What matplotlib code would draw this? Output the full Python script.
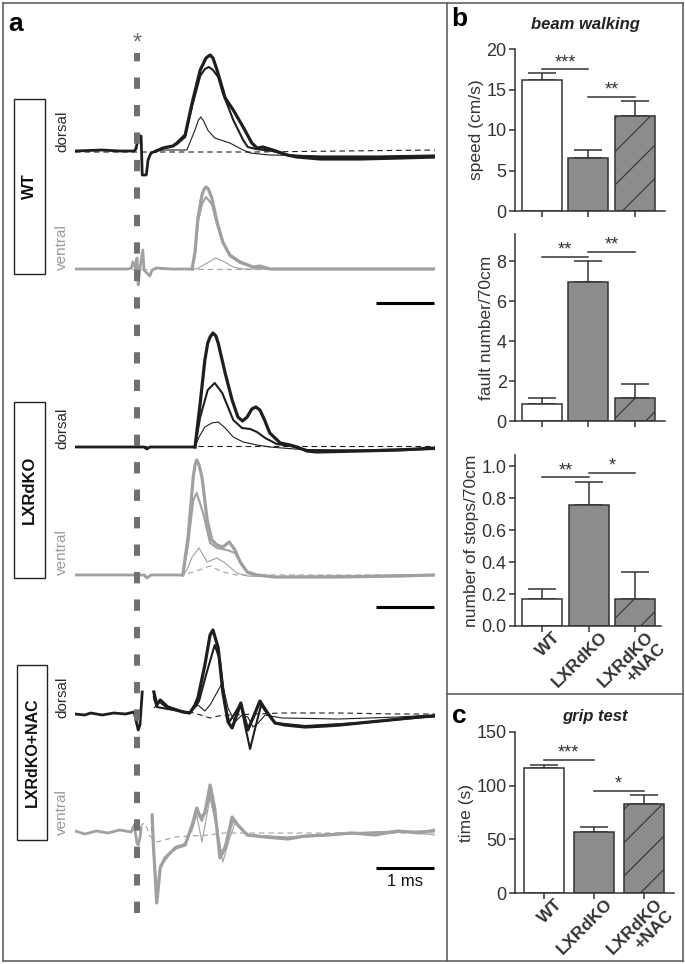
"""EMG traces (a) and behaviour bar charts (b, c) for WT / LXRdKO / LXRdKO+NAC."""
import numpy as np
import matplotlib
matplotlib.use("Agg")
import matplotlib.pyplot as plt
from matplotlib.lines import Line2D
from matplotlib.patches import Rectangle
from matplotlib.transforms import ScaledTranslation

W, H = 685, 964
plt.rcParams["font.family"] = ["Liberation Sans", "DejaVu Sans"]
plt.rcParams["hatch.linewidth"] = 0.8
plt.rcParams["hatch.color"] = "#333333"

# ---- behaviour data -------------------------------------------------------
GROUPS = ["WT", "LXRdKO", "LXRdKO\n+NAC"]
SPEED = [16.2, 6.5, 11.7]
SPEED_ERR = [0.8, 1.0, 1.9]
FAULTS = [0.83, 6.97, 1.17]
FAULTS_ERR = [0.33, 1.05, 0.68]
STOPS = [0.17, 0.755, 0.167]
STOPS_ERR = [0.062, 0.146, 0.168]
GRIP = [116.5, 56.5, 83.0]
GRIP_ERR = [2.5, 4.6, 8.4]
# (from group, to group, bracket height, label)
SPEED_SIG = [(0, 1, 17.5, "***"), (1, 2, 14.1, "**")]
FAULTS_SIG = [(0, 1, 8.2, "**"), (1, 2, 8.45, "**")]
STOPS_SIG = [(0, 1, 0.93, "**"), (1, 2, 0.96, "*")]
GRIP_SIG = [(0, 1, 124, "***"), (1, 2, 95, "*")]

# ---- EMG traces: (time from stimulus in ms, amplitude in a.u.) ------------
WT_D_PRE = [(-1.07, 0.0), (-0.6, 0.1), (-0.3, 0.0), (-0.05, 0.0), (-0.02, 0.2), (0.03, 1.5),
            (0.07, 1.5), (0.09, -2.4), (0.16, -2.4), (0.19, -0.9), (0.24, -0.2), (0.33, 0.0)]
WT_D_THICK = [(0.45, 0.3), (0.62, 0.5), (0.69, 0.8), (0.83, 1.6), (0.95, 4.8), (1.09, 8.1),
              (1.19, 9.3), (1.26, 9.6), (1.31, 9.3), (1.38, 8.1), (1.52, 5.3), (1.66, 4.1),
              (1.83, 2.4), (1.98, 0.8), (2.07, 0.3), (2.17, 0.4), (2.34, 0.1), (2.59, -0.4),
              (2.76, -0.6), (3.16, -0.8), (3.84, -0.8), (4.53, -0.7), (5.14, -0.6)]
WT_D_MED = [(0.45, 0.3), (0.62, 0.5), (0.69, 0.7), (0.83, 1.4), (0.95, 4.5), (1.09, 7.5),
            (1.17, 8.2), (1.24, 8.4), (1.31, 8.1), (1.40, 7.4), (1.48, 5.8), (1.66, 3.1),
            (1.83, 1.1), (1.91, 0.4), (2.05, 0.2), (2.34, 0.0), (2.59, -0.4), (3.16, -0.6),
            (4.19, -0.6), (5.14, -0.5)]
WT_D_THIN = [(0.45, 0.1), (0.86, 0.1), (1.00, 2.1), (1.06, 3.1), (1.10, 3.4), (1.15, 3.0),
             (1.22, 2.1), (1.34, 1.3), (1.60, 0.8), (1.83, 0.1), (1.95, -0.2), (2.29, -0.4),
             (3.16, -0.5), (4.19, -0.5), (5.14, -0.4)]
WT_D_DASH = [(-1.07, -0.1), (2.0, -0.1), (5.14, 0.1)]

WT_V_PRE = [(-1.07, 0.0), (-0.16, 0.0), (-0.10, 0.1), (-0.07, 0.7), (-0.03, 0.1), (0.00, 1.1),
            (0.02, -1.6), (0.05, 0.1), (0.10, 1.9), (0.12, -0.1), (0.22, -0.7), (0.26, -0.1),
            (0.33, 0.1), (0.60, 0.0), (0.95, 0.0)]
WT_V_THICK = [(1.00, 1.7), (1.05, 5.1), (1.12, 7.4), (1.16, 8.0), (1.19, 8.2), (1.23, 8.0),
              (1.29, 7.1), (1.38, 4.7), (1.48, 2.7), (1.60, 1.4), (1.78, 0.7), (2.00, 0.2),
              (2.12, 0.3), (2.29, 0.0), (5.14, 0.0)]
WT_V_MED = [(0.95, 0.0), (1.00, 1.5), (1.05, 4.7), (1.12, 6.5), (1.19, 7.2), (1.29, 6.5),
            (1.38, 4.5), (1.48, 2.6), (1.60, 1.3), (1.78, 0.6), (2.00, 0.2), (2.29, 0.0),
            (5.14, 0.0)]
WT_V_THIN = [(0.95, 0.0), (1.03, 0.0), (1.21, 0.6), (1.36, 1.1), (1.48, 0.8), (1.66, 0.2),
             (1.83, 0.0), (5.14, 0.0)]
WT_V_DASH = [(-1.07, 0.0), (5.14, 0.0)]

KO_D_PRE = [(-1.07, 0.0), (0.12, 0.0), (0.17, -0.2), (0.22, 0.0), (1.00, 0.0)]
KO_D_THICK = [(1.09, 4.4), (1.17, 8.7), (1.22, 10.4), (1.26, 11.0), (1.31, 11.4), (1.36, 11.1),
              (1.40, 10.4), (1.52, 7.4), (1.64, 4.7), (1.74, 3.0), (1.82, 2.6), (1.90, 3.0),
              (1.98, 3.8), (2.05, 4.0), (2.12, 3.7), (2.20, 2.7), (2.29, 1.4), (2.47, 0.4),
              (2.64, 0.2), (2.76, 0.0), (2.93, -0.4), (3.10, -0.5), (3.84, -0.4), (4.53, -0.3),
              (5.14, -0.1)]
KO_D_MED = [(1.00, 0.0), (1.09, 3.0), (1.22, 5.7), (1.34, 6.4), (1.47, 5.4), (1.66, 2.7),
            (1.81, 1.9), (1.95, 1.8), (2.07, 1.5), (2.21, 0.9), (2.41, 0.3), (2.64, 0.1),
            (2.93, -0.3), (3.84, -0.4), (5.14, -0.2)]
KO_D_THIN = [(1.00, 0.0), (1.07, 1.0), (1.17, 2.0), (1.29, 2.4), (1.40, 2.5), (1.52, 1.9),
             (1.66, 1.0), (1.83, 0.5), (2.07, 0.2), (2.29, 0.0), (2.93, -0.3), (3.84, -0.3),
             (5.14, -0.1)]
KO_D_DASH = [(-1.07, 0.1), (5.14, 0.1)]

KO_V_PRE = [(-1.07, 0.0), (0.12, 0.0), (0.17, -0.3), (0.24, 0.0), (0.79, 0.0)]
KO_V_THICK = [(0.88, 3.8), (0.97, 9.8), (1.00, 11.0), (1.03, 11.5), (1.07, 11.0), (1.12, 9.8),
              (1.21, 5.5), (1.29, 3.5), (1.38, 3.0), (1.48, 2.8), (1.59, 3.3), (1.69, 2.5),
              (1.78, 1.3), (1.90, 0.3), (2.07, 0.0), (2.38, -0.2), (3.50, -0.2), (4.53, -0.1),
              (5.14, 0.0)]
KO_V_MED = [(0.79, 0.0), (0.88, 3.0), (0.97, 7.5), (1.03, 8.2), (1.14, 6.2), (1.26, 3.2),
            (1.38, 2.7), (1.55, 2.5), (1.69, 2.2), (1.84, 0.7), (1.95, 0.1), (2.38, -0.2),
            (5.14, 0.0)]
KO_V_THIN = [(0.79, 0.0), (0.86, 0.5), (0.95, 1.8), (1.07, 2.7), (1.21, 1.3), (1.38, 1.7),
             (1.52, 1.2), (1.72, 0.2), (1.90, -0.1), (2.38, -0.2), (5.14, 0.0)]
KO_V_DASH = [(-1.07, 0.0), (0.79, 0.0), (0.97, 0.3), (1.26, 0.9), (1.48, 0.3), (1.72, 0.0),
             (5.14, 0.0)]

NAC_D_PRE = [(-1.07, 0.1), (-0.9, 0.0), (-0.8, 0.2), (-0.6, 0.0), (-0.4, 0.2), (-0.2, 0.1),
             (-0.05, 0.3), (0.02, -1.5), (0.05, -1.0), (0.09, 2.3)]
NAC_D_THICK = [(0.29, 2.3), (0.34, 1.0), (0.40, 1.5), (0.53, 0.8), (0.79, 0.3), (0.91, 0.2),
               (1.00, 1.0), (1.05, 1.7), (1.17, 5.0), (1.26, 8.0), (1.31, 8.5), (1.40, 6.7),
               (1.48, 2.3), (1.57, -0.7), (1.64, -1.3), (1.72, 0.0), (1.79, 1.2), (1.84, 0.0),
               (1.91, -1.5), (2.00, -0.3), (2.12, 1.4), (2.24, 0.3), (2.38, -0.8), (2.55, -1.0),
               (2.90, -1.2), (3.24, -1.1), (3.50, -1.0), (3.84, -0.8), (4.19, -0.6), (4.53, -0.4),
               (4.88, -0.2), (5.14, -0.1)]
NAC_D_MED = [(0.29, 1.8), (0.34, 0.8), (0.53, 0.6), (0.91, 0.2), (1.00, 0.8), (1.07, 1.4),
             (1.19, 4.0), (1.34, 7.0), (1.43, 5.5), (1.52, 1.0), (1.59, -0.7), (1.69, 0.2),
             (1.79, 1.2), (1.86, -1.0), (1.95, -3.4), (2.03, -1.5), (2.14, 1.0), (2.24, 0.2),
             (2.38, -0.8), (2.90, -1.1), (3.84, -0.8), (5.14, -0.1)]
NAC_D_THIN = [(0.29, 1.5), (0.40, 1.2), (0.53, 0.6), (0.91, 0.3), (1.05, 1.0), (1.17, 0.4),
              (1.26, 1.0), (1.47, 3.2), (1.57, 0.7), (1.69, -0.7), (1.81, 0.0), (1.91, -0.2),
              (2.00, -1.2), (2.09, -0.8), (2.21, 0.0), (2.50, -0.3), (3.50, -0.4), (4.50, -0.2),
              (5.14, 0.0)]
NAC_D_DASH = [(0.29, 0.7), (0.34, 1.0), (0.40, 1.2), (0.66, 0.5), (0.91, 0.3), (1.10, 0.0),
              (1.26, -0.3), (1.40, -0.1), (1.60, 0.0), (2.50, 0.2), (3.50, 0.2), (4.50, 0.1),
              (5.14, 0.1)]

NAC_V_PRE = [(-1.07, 0.2), (-0.9, -0.1), (-0.7, 0.2), (-0.5, 0.0), (-0.3, 0.3), (-0.1, 0.1),
             (-0.05, 0.8), (0.00, -1.0), (0.02, -1.2), (0.05, -0.5), (0.07, 0.5)]
NAC_V_THICK = [(0.26, 1.8), (0.28, -1.0), (0.34, -7.0), (0.40, -3.5), (0.48, -2.5), (0.66, -1.5),
               (0.83, -1.2), (0.95, 0.8), (1.03, 2.5), (1.10, 1.5), (1.17, 2.0), (1.26, 4.8),
               (1.34, 2.5), (1.43, -2.5), (1.52, -1.5), (1.64, 1.6), (1.74, 0.8), (1.90, -0.2),
               (2.20, -0.4), (2.60, -0.6), (2.90, -0.3), (3.30, -0.2), (3.70, 0.0), (4.10, -0.2),
               (4.50, 0.2), (4.88, 0.0), (5.14, 0.3)]
NAC_V_MED = [(0.26, 1.5), (0.29, -2.0), (0.34, -6.5), (0.40, -3.3), (0.66, -1.4), (0.83, -1.1),
             (0.95, 0.6), (1.03, 2.2), (1.12, 1.2), (1.26, 3.8), (1.36, 1.0), (1.45, -2.2),
             (1.55, -0.8), (1.66, 1.3), (1.78, 0.5), (1.90, -0.2), (2.60, -0.5), (3.50, -0.1),
             (4.50, 0.1), (5.14, 0.2)]
NAC_V_THIN = [(0.50, -2.3), (0.83, -1.0), (0.95, 0.3), (1.03, 1.8), (1.12, -0.9), (1.29, 4.5),
              (1.40, 0.0), (1.48, -2.9), (1.60, -0.5), (1.69, 1.0), (1.81, 0.3), (1.95, -0.2),
              (2.60, -0.4), (3.50, 0.0), (4.50, 0.2), (5.14, -0.2)]
NAC_V_DASH = [(0.05, 0.6), (0.12, 1.0), (0.17, 0.5), (0.22, -0.3), (0.34, -0.9), (0.66, -0.4),
              (1.22, -0.2), (1.50, 0.0), (5.14, 0.0)]

T0, T1 = -1.07, 5.14   # ms shown
SCALE_MS = 1.0

DORSAL = "#1e1e1e"
VENTRAL = "#a0a0a0"
INK = "#333333"
FRAME = "#555555"


def px_axes(fig, x0, y0, x1, y1):
    """Axes placed by pixel box (top-left origin)."""
    ax = fig.add_axes([x0 / W, 1 - y1 / H, (x1 - x0) / W, (y1 - y0) / H])
    ax.patch.set_alpha(0)
    return ax


def fig_text(fig, x, y, s, **kw):
    fig.text(x / W, 1 - y / H, s, **kw)


def xy(points):
    a = np.asarray(points, dtype=float)
    return a[:, 0], a[:, 1]


def trace_row(fig, baseline, color, pre, thick, med, thin, dash, bar_y=None, gap=False):
    ax = px_axes(fig, 75, baseline - 120, 435, baseline + 80)
    ax.set_xlim(T0, T1)
    ax.set_ylim(-8, 12)
    ax.axis("off")
    ax.plot(*xy(dash), color=color, lw=0.8, ls=(0, (5, 3.5)))
    ax.plot(*xy(pre), color=color, lw=2.0)
    join = [] if gap else pre[-1:]
    ax.plot(*xy(join + thin), color=color, lw=0.8)
    ax.plot(*xy(join + med), color=color, lw=1.5)
    ax.plot(*xy(join + thick), color=color, lw=2.3)
    if bar_y is not None:
        ax.plot([T1 - 0.02 - SCALE_MS, T1 - 0.02], [bar_y, bar_y], color="black", lw=2.2,
                solid_capstyle="butt")
    return ax


def group_box(fig, x0, y0, x1, y1, label, size):
    fig.add_artist(Rectangle((x0 / W, 1 - y1 / H), (x1 - x0) / W, (y1 - y0) / H,
                             transform=fig.transFigure, fill=False, ec="#222222", lw=1.0))
    fig_text(fig, (x0 + x1) / 2, (y0 + y1) / 2, label, rotation=90, ha="center", va="center",
             fontsize=size, fontweight="bold", color="#111111")


def bar_panel(ax, values, errors, sigs, ylim, yticks, ylabel, xlim, width, labels):
    x = np.arange(len(values))
    bars = ax.bar(x, values, width, color=["white", "#8c8c8c", "#8c8c8c"], edgecolor=INK,
                  linewidth=1.1, zorder=2)
    bars[2].set_hatch("/")
    ax.errorbar(x, values, yerr=[np.zeros(len(values)), errors], fmt="none", ecolor=INK,
                elinewidth=1.1, capsize=10, capthick=1.1, zorder=1)
    for i, j, y, s in sigs:
        ax.plot([i, j], [y, y], color=INK, lw=1.1)
        ax.annotate(s, ((i + j) / 2, y), xytext=(0, 1.5), textcoords="offset points",
                    ha="center", va="baseline", fontsize=13, color=INK)
    ax.set_xlim(*xlim)
    ax.set_ylim(*ylim)
    ax.set_yticks(yticks)
    ax.set_xticks(x)
    for side in ("top", "right"):
        ax.spines[side].set_visible(False)
    for side in ("left", "bottom"):
        ax.spines[side].set_color(INK)
        ax.spines[side].set_linewidth(1.1)
    ax.tick_params(direction="out", length=4, width=1.1, colors=INK, labelsize=13, pad=2)
    ax.set_ylabel(ylabel, fontsize=12.5, color=INK, labelpad=2)
    if labels:
        ax.set_xticklabels(labels, rotation=45, ha="right", va="top", rotation_mode="anchor",
                           fontweight="bold", fontsize=12.5, multialignment="right",
                           linespacing=1.05)
        shift = ScaledTranslation(0.11, 0.05, ax.figure.dpi_scale_trans)
        for lab in ax.get_xticklabels():
            lab.set_transform(lab.get_transform() + shift)
    else:
        ax.set_xticklabels([])


def main():
    fig = plt.figure(figsize=(W / 100, H / 100), dpi=100)

    # frames
    for x0, y0, x1, y1 in [(3, 3, 683, 3), (3, 961, 683, 961), (3, 3, 3, 961),
                           (683, 3, 683, 961), (447, 3, 447, 961), (447, 694, 683, 694)]:
        fig.add_artist(Line2D([x0 / W, x1 / W], [1 - y0 / H, 1 - y1 / H],
                              transform=fig.transFigure, color=FRAME, lw=1.1))

    # ---- panel a ----
    trace_row(fig, 151, DORSAL, WT_D_PRE, WT_D_THICK, WT_D_MED, WT_D_THIN, WT_D_DASH)
    trace_row(fig, 269, VENTRAL, WT_V_PRE, WT_V_THICK, WT_V_MED, WT_V_THIN, WT_V_DASH, bar_y=-3.4)
    trace_row(fig, 447, DORSAL, KO_D_PRE, KO_D_THICK, KO_D_MED, KO_D_THIN, KO_D_DASH)
    trace_row(fig, 575, VENTRAL, KO_V_PRE, KO_V_THICK, KO_V_MED, KO_V_THIN, KO_V_DASH, bar_y=-3.2)
    trace_row(fig, 715, DORSAL, NAC_D_PRE, NAC_D_THICK, NAC_D_MED, NAC_D_THIN, NAC_D_DASH, gap=True)
    trace_row(fig, 833, VENTRAL, NAC_V_PRE, NAC_V_THICK, NAC_V_MED, NAC_V_THIN, NAC_V_DASH,
              bar_y=-3.5, gap=True)

    # stimulus marker
    stim = px_axes(fig, 75, 0, 435, H)
    stim.set_xlim(T0, T1)
    stim.set_ylim(0, 1)
    stim.axis("off")
    stim.axvline(0, ymin=1 - 913 / H, ymax=1 - 53 / H, color="#707070", lw=4.3,
                 ls=(0, (1.9, 2.7)), dash_capstyle="butt", zorder=5)
    stim.text(0, 1 - 44 / H, "*", ha="center", va="center", fontsize=17, color="#707070")

    group_box(fig, 14, 99, 45, 274, "WT", 12)
    group_box(fig, 14, 402, 45, 578, "LXRdKO", 12)
    group_box(fig, 17, 665, 47, 840, "LXRdKO+NAC", 11.5)
    for y in (131, 428, 697):
        fig_text(fig, 62, y, "dorsal", rotation=90, ha="center", va="center", fontsize=11,
                 color="#2a2a2a")
    for y in (247, 552, 812):
        fig_text(fig, 62, y, "ventral", rotation=90, ha="center", va="center", fontsize=11,
                 color="#9a9a9a")
    fig_text(fig, 405, 881, "1 ms", ha="center", va="center", fontsize=12, color="#111111")
    fig_text(fig, 16, 24, "a", ha="center", va="center", fontsize=19, fontweight="bold")

    # ---- panel b ----
    fig_text(fig, 459, 19, "b", ha="center", va="center", fontsize=19, fontweight="bold")
    fig_text(fig, 585, 25, "beam walking", ha="center", va="center", fontsize=12,
             fontweight="bold", fontstyle="italic", color="#222222")
    bxlim = (-0.58, 2.645)
    ax1 = px_axes(fig, 515, 49, 665, 211)
    bar_panel(ax1, SPEED, SPEED_ERR, SPEED_SIG, (0, 20), [0, 5, 10, 15, 20], "speed (cm/s)",
              bxlim, 0.86, None)
    ax2 = px_axes(fig, 515, 234, 665, 421)
    bar_panel(ax2, FAULTS, FAULTS_ERR, FAULTS_SIG, (0, 9.35), [0, 2, 4, 6, 8],
              "fault number/70cm", bxlim, 0.86, None)
    ax3 = px_axes(fig, 515, 455, 661, 626)
    bar_panel(ax3, STOPS, STOPS_ERR, STOPS_SIG, (0, 1.07), [0, 0.2, 0.4, 0.6, 0.8, 1.0],
              "number of stops/70cm", (-0.58, 2.55), 0.86, GROUPS)
    ax3.set_yticklabels(["0.0", "0.2", "0.4", "0.6", "0.8", "1.0"])

    # ---- panel c ----
    fig_text(fig, 459, 716, "c", ha="center", va="center", fontsize=19, fontweight="bold")
    fig_text(fig, 595, 717, "grip test", ha="center", va="center", fontsize=12,
             fontweight="bold", fontstyle="italic", color="#222222")
    ax4 = px_axes(fig, 515, 732, 674, 893)
    bar_panel(ax4, GRIP, GRIP_ERR, GRIP_SIG, (0, 150), [0, 50, 100, 150], "time (s)",
              (-0.58, 2.61), 0.8, GROUPS)

    fig.savefig("out.png", dpi=100)


if __name__ == "__main__":
    main()
